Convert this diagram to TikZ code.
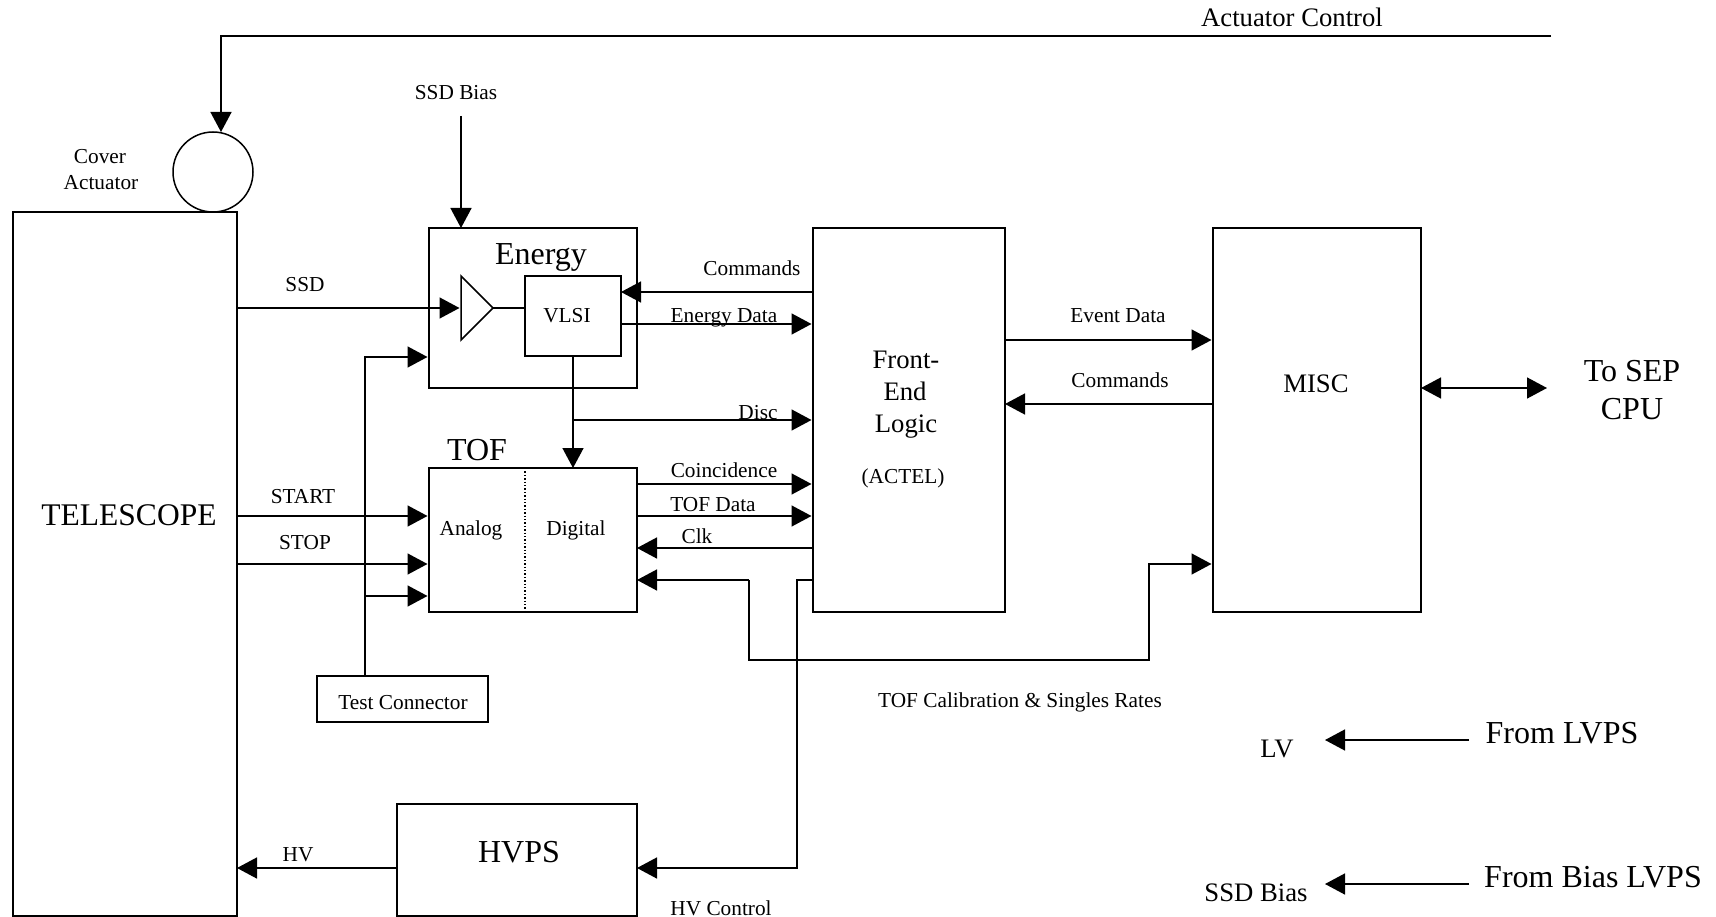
\documentclass[tikz,border=0pt]{standalone}
\usepackage{fontspec}
\setmainfont{Liberation Serif}
\usetikzlibrary{arrows.meta}
\tikzset{
  x=1pt,y=-1pt,
  wire/.style={line width=1.5pt,draw=black},
  arr/.style={wire,-{Triangle[length=20pt,width=21pt]}},
  arrgap/.style={arr,shorten >=1.5pt},
  dbl/.style={wire,{Triangle[length=20pt,width=21pt]}-{Triangle[length=20pt,width=21pt]}},
  blk/.style={draw=black,line width=1.5pt,inner sep=0pt,outer sep=0pt,anchor=north west},
  lab/.style={anchor=base,inner sep=0pt,outer sep=0pt,text=black},
  sm/.style={lab,font=\fontsize{21.3}{24}\selectfont},
  md/.style={lab,font=\fontsize{26.7}{30}\selectfont},
  lg/.style={lab,font=\fontsize{32}{36}\selectfont},
}
\begin{document}
\begin{tikzpicture}
\useasboundingbox (0,0) rectangle (1716,917);
% blocks
\node[blk,minimum width=224pt,minimum height=704pt] (tele) at (13,212) {};
\node[blk,circle,anchor=center,minimum size=80pt] (act) at (213,172) {};
\node[blk,minimum width=208pt,minimum height=160pt] (energy) at (429,228) {};
\node[blk,minimum width=96pt,minimum height=80pt] (vlsi) at (525,276) {};
\node[blk,minimum width=208pt,minimum height=144pt] (tof) at (429,468) {};
\node[blk,minimum width=192pt,minimum height=384pt] (fel) at (813,228) {};
\node[blk,minimum width=208pt,minimum height=384pt] (misc) at (1213,228) {};
\node[blk,minimum width=171pt,minimum height=46pt] (test) at (317,676) {};
\node[blk,minimum width=240pt,minimum height=112pt] (hvps) at (397,804) {};
% helper points
\coordinate (tria) at (461,276);
\coordinate (trib) at (461,340);
\coordinate (tric) at (493,308);
\coordinate (trim) at (461,308);
\coordinate (acttop) at (221,132);
\coordinate (actend) at (1551,36);
\coordinate (actcorner) at (221,36);
\coordinate (biastop) at (461,116);
\coordinate (bustest) at (365,676);
\coordinate (busen) at (365,357);
\coordinate (bustof) at (365,596);
\coordinate (startY) at (429,516);
\coordinate (stopY) at (429,564);
\coordinate (discY) at (573,420);
\coordinate (cmdY) at (813,292);
\coordinate (edY) at (621,324);
\coordinate (coinY) at (637,484);
\coordinate (tdY) at (637,516);
\coordinate (clkY) at (813,548);
\coordinate (calY) at (637,580);
\coordinate (calA) at (749,580);
\coordinate (calB) at (749,660);
\coordinate (calC) at (1149,660);
\coordinate (calD) at (1149,564);
\coordinate (hvA) at (813,580);
\coordinate (hvB) at (797,580);
\coordinate (hvC) at (797,868);
\coordinate (hvY) at (397,868);
\coordinate (evY) at (1005,340);
\coordinate (mcY) at (1213,404);
\coordinate (cpuA) at (1421,388);
\coordinate (cpuB) at (1547,388);
\coordinate (lvA) at (1469,740);
\coordinate (lvB) at (1325,740);
\coordinate (sbA) at (1469,884);
\coordinate (sbB) at (1325,884);
% dotted divider and amplifier
\draw[line width=1.4pt,dotted,draw=black] (tof.north west -| 525,0) -- (tof.south west -| 525,0);
\draw[wire,line join=miter] (tria) -- (tric) -- (trib) -- cycle;
% connectors
\draw[arr] (actend) -- (actcorner) -- (acttop);
\draw[arr] (biastop) -- (biastop |- energy.north);
\draw[wire] (tric) -- (tric -| vlsi.west);
\draw[arrgap] (tele.east |- trim) -- (trim);
\draw[arrgap] (bustest) -- (busen) -- (busen -| energy.west);
\draw[arrgap] (bustof) -- (bustof -| tof.west);
\draw[arrgap] (tele.east |- startY) -- (startY);
\draw[arrgap] (tele.east |- stopY) -- (stopY);
\draw[wire] (vlsi.south -| discY) -- (discY);
\draw[arr] (discY) -- (discY |- tof.north);
\draw[arrgap] (discY) -- (discY -| fel.west);
\draw[arr] (cmdY) -- (cmdY -| vlsi.east);
\draw[arrgap] (edY) -- (edY -| fel.west);
\draw[arrgap] (coinY) -- (coinY -| fel.west);
\draw[arrgap] (tdY) -- (tdY -| fel.west);
\draw[arr] (clkY) -- (clkY -| tof.east);
\draw[arr] (calA) -- (calY);
\draw[arrgap] (calA) -- (calB) -- (calC) -- (calD) -- (calD -| misc.west);
\draw[arr] (hvA) -- (hvB) -- (hvC) -- (hvC -| hvps.east);
\draw[arr] (hvY) -- (hvY -| tele.east);
\draw[arrgap] (evY) -- (evY -| misc.west);
\draw[arr] (mcY) -- (mcY -| fel.east);
\draw[dbl] (cpuA) -- (cpuB);
\draw[arr] (lvA) -- (lvB);
\draw[arr] (sbA) -- (sbB);
% labels
\node[md] (tActCtl) at (1292,27) {Actuator Control};
\node[sm] (tBias) at (456,100) {SSD Bias};
\node[sm] (tCover) at (100,164) {Cover};
\node[sm] (tActuator) at (101,190) {Actuator};
\node[sm] (tSSD) at (305,292) {SSD};
\node[lg] (tEnergy) at (541,265) {Energy};
\node[sm] (tCmd) at (752,276) {Commands};
\node[sm] (tVLSI) at (567,323) {VLSI};
\node[sm] (tEData) at (724,323) {Energy Data};
\node[sm] (tDisc) at (758,419) {Disc};
\node[lg] (tTOF) at (477,460) {TOF};
\node[lab,font=\fontsize{31.5}{36}\selectfont] (tTele) at (129,525) {TELESCOPE};
\node[sm] (tStart) at (303,503) {START};
\node[sm] (tStop) at (305,549) {STOP};
\node[sm] (tAnalog) at (471,535) {Analog};
\node[sm] (tDigital) at (576,535) {Digital};
\node[sm] (tTest) at (403,709) {Test Connector};
\node[sm] (tCoin) at (724,477) {Coincidence};
\node[sm] (tTData) at (713,511) {TOF Data};
\node[sm] (tClk) at (697,543) {Clk};
\node[md] (tFront) at (906,368) {Front-};
\node[md] (tEnd) at (905,400) {End};
\node[md] (tLogic) at (906,432) {Logic};
\node[sm] (tActel) at (903,483) {(ACTEL)};
\node[sm] (tCal) at (1020,707) {TOF Calibration \& Singles Rates};
\node[sm] (tEvent) at (1118,323) {Event Data};
\node[sm] (tCmd2) at (1120,387) {Commands};
\node[md] (tMisc) at (1316,392) {MISC};
\node[lg] (tSep) at (1632,381) {To SEP};
\node[lg] (tCpu) at (1632,419) {CPU};
\node[md] (tLV) at (1277,757) {LV};
\node[md] (tBias2) at (1256,901) {SSD Bias};
\node[lg] (tLVPS) at (1562,743) {From LVPS};
\node[lg] (tBLVPS) at (1593,887) {From Bias LVPS};
\node[lg] (tHVPS) at (519,862) {HVPS};
\node[sm] (tHV) at (298,861) {HV};
\node[sm] (tHVC) at (721,915) {HV Control};
\end{tikzpicture}
\end{document}
